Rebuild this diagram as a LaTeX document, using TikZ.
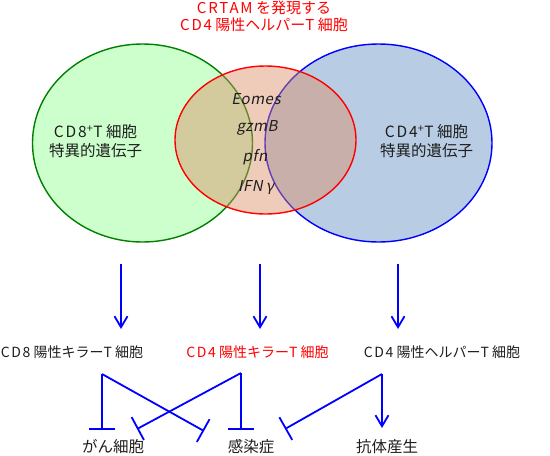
\documentclass[tikz,border=0pt]{standalone}
\usepackage{fontspec}
\setmainfont{Noto Sans CJK JP}
\newfontfamily\genefont{Noto Sans CJK JP}[FakeSlant=0.2,LetterSpace=4]
\newcommand{\lw}[1]{{\addfontfeature{LetterSpace=12}#1}}
\usetikzlibrary{arrows.meta}
\definecolor{gfill}{RGB}{204,255,204}
\definecolor{gline}{RGB}{0,128,0}
\definecolor{bfill}{RGB}{184,204,228}
\definecolor{bline}{RGB}{0,0,255}
\definecolor{rfill}{RGB}{220,140,100}
\definecolor{rline}{RGB}{255,0,0}
\definecolor{txt}{RGB}{30,30,30}
\tikzset{
  lbl/.style={inner sep=0pt, text=txt, font=\fontsize{14}{16}\selectfont},
  big/.style={inner sep=0pt, text=txt, align=center, font=\fontsize{15.5}{19}\selectfont},
  gene/.style={inner sep=0pt, text=txt, font=\genefont\fontsize{15}{17}\selectfont},
  conn/.style={draw=bline, line width=1.8pt},
  down/.style={conn, -{Straight Barb[length=11pt,width=13pt,line width=1.8pt]}},
  inhib/.style={conn, -{Bar[width=26pt,line width=1.8pt]}}
}
\begin{document}
\begin{tikzpicture}[x=1pt,y=-1pt]
\useasboundingbox (0,0) rectangle (550,456);
% ellipses
\draw[fill=gfill, draw=gline, line width=1.4pt] (142.5,143) ellipse [x radius=110pt, y radius=99pt];
\draw[fill=bfill, draw=bline, line width=1.4pt] (378.5,143) ellipse [x radius=113.5pt, y radius=99pt];
\fill[rfill, fill opacity=0.45] (265.5,140) ellipse [x radius=90.5pt, y radius=74pt];
\draw[rline, line width=1.4pt] (265.5,140) ellipse [x radius=90.5pt, y radius=74pt];
% title
\node[lbl, text=rline, align=center, font=\fontsize{15}{17}\selectfont] (title) at (264,16) {\lw{CRTAM} を発現する\\\lw{CD4} 陽性ヘルパー\lw{T} 細胞};
% circle labels
\node[big] (cd8g) at (95.5,141) {\lw{CD8}\textsuperscript{+}\lw{T} 細胞\\特異的遺伝子};
\node[big] (cd4g) at (426.5,141) {\lw{CD4}\textsuperscript{+}\lw{T} 細胞\\特異的遺伝子};
% genes
\node[gene] (g1) at (256,99) {Eomes};
\node[gene] (g2) at (257,128) {gzmB};
\node[gene] (g3) at (255,157) {pfn};
\node[gene] (g4) at (256,187) {IFN\hspace{3pt}γ};
% cell labels
\node[lbl] (c8) at (72,352) {\lw{CD8} 陽性キラー\lw{T} 細胞};
\node[lbl, text=rline] (c4k) at (257.5,352) {\lw{CD4} 陽性キラー\lw{T} 細胞};
\node[lbl] (c4h) at (442,352) {\lw{CD4} 陽性ヘルパー\lw{T} 細胞};
% outcome labels
\node[big] (can) at (113,447) {がん細胞};
\node[big] (inf) at (251,447) {感染症};
\node[big] (ab) at (387,447) {抗体産生};
% coordinates
\coordinate (a1s) at (121,264); \coordinate (a1e) at (121,329);
\coordinate (a2s) at (260,264); \coordinate (a2e) at (260,329);
\coordinate (a3s) at (398,264); \coordinate (a3e) at (398,329);
\coordinate (b8) at (102,374);
\coordinate (b4k) at (241,373);
\coordinate (b4h) at (382,374);
\coordinate (canT) at (102,430);
\coordinate (canD) at (137,429);
\coordinate (infT) at (241,430);
\coordinate (infD1) at (204,431);
\coordinate (infD2) at (285,429);
\coordinate (abT) at (382,428);
% arrows from ellipses
\draw[down] (a1s) -- (a1e);
\draw[down] (a2s) -- (a2e);
\draw[down] (a3s) -- (a3e);
% effects
\draw[inhib] (b8) -- (canT);
\draw[inhib] (b8) -- (infD1);
\draw[inhib] (b4k) -- (infT);
\draw[inhib] (b4k) -- (canD);
\draw[inhib] (b4h) -- (infD2);
\draw[down] (b4h) -- (abT);
\end{tikzpicture}
\end{document}
